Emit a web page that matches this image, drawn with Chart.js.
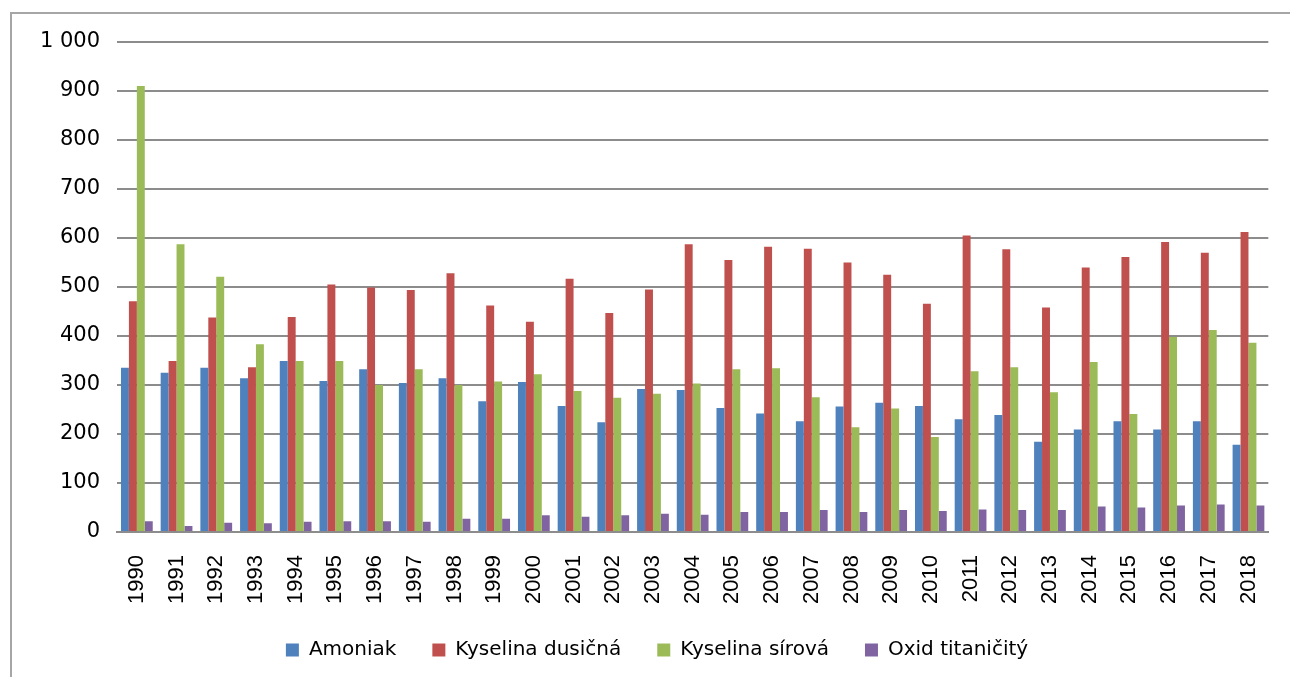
<!DOCTYPE html>
<html lang="cs">
  <head>
    <meta charset="UTF-8" />
    <title>Produkce</title>
    <script src="https://cdn.jsdelivr.net/npm/chart.js"></script>
    <style>
      html, body { margin: 0; padding: 0; background: #fff; }
      #wrap { position: relative; width: 1290px; height: 677px; overflow: hidden; }
      #frame {
        position: absolute; left: 10px; top: 12px; width: 1300px; height: 700px;
        border: 2px solid #a6a6a6; box-sizing: border-box;
      }
      #c { position: absolute; left: 0; top: 0; }
    </style>
  </head>
  <body>
    <div id="wrap">
      <div id="frame"></div>
      <canvas id="c" width="1290" height="677"></canvas>
    </div>
    <script>
      const years = ["1990","1991","1992","1993","1994","1995","1996","1997","1998","1999",
        "2000","2001","2002","2003","2004","2005","2006","2007","2008","2009",
        "2010","2011","2012","2013","2014","2015","2016","2017","2018"];

      const amoniak = [335, 325, 335, 314, 349, 308, 332, 304, 314, 267,
        306, 257, 224, 292, 290, 253, 242, 226, 256, 264,
        257, 230, 239, 184, 209, 226, 209, 226, 178];
      const kyselinaDusicna = [471, 349, 438, 336, 439, 505, 499, 494, 528, 462,
        429, 517, 447, 495, 587, 555, 582, 578, 550, 525,
        466, 605, 577, 458, 540, 561, 592, 570, 612];
      const kyselinaSirova = [910, 587, 521, 383, 349, 349, 300, 332, 300, 307,
        322, 288, 274, 282, 303, 332, 334, 275, 214, 252,
        194, 328, 336, 285, 347, 241, 398, 412, 386];
      const oxidTitanicity = [22, 12, 19, 18, 21, 22, 22, 21, 27, 27,
        34, 31, 34, 37, 35, 41, 41, 45, 41, 45,
        43, 46, 45, 45, 52, 50, 54, 56, 54];

      const yTicks = [0, 100, 200, 300, 400, 500, 600, 700, 800, 900, 1000];

      const mk = (label, data, color) => ({
        label: label,
        data: data,
        backgroundColor: color,
        borderWidth: 0,
        categoryPercentage: 0.8,
        barPercentage: 1.0,
      });

      const chart = new Chart(document.getElementById("c"), {
        type: "bar",
        data: {
          labels: years,
          datasets: [
            mk("Amoniak", amoniak, "#4f81bd"),
            mk("Kyselina dusičná", kyselinaDusicna, "#c0504d"),
            mk("Kyselina sírová", kyselinaSirova, "#9bbb59"),
            mk("Oxid titaničitý", oxidTitanicity, "#8064a2"),
          ],
        },
        options: {
          responsive: false,
          animation: false,
          layout: { padding: { left: 31, right: 7, top: 42, bottom: 7 } },
          scales: {
            x: {
              grid: { display: false },
              border: { display: true, color: "#8c8c8c", width: 2 },
              ticks: {
                color: "#000",
                font: { family: "Liberation Sans", size: 22 },
                minRotation: 90,
                maxRotation: 90,
                autoSkip: false,
                padding: 15,
              },
              afterFit: (s) => { s.height = 72; },
            },
            y: {
              min: 0,
              max: 1000,
              afterBuildTicks: (s) => { s.ticks = yTicks.map((v) => ({ value: v })); },
              grid: { color: "#8c8c8c", lineWidth: 2, drawTicks: false },
              border: { display: false },
              ticks: {
                color: "#000",
                padding: 17,
                font: { family: "DejaVu Sans", size: 21 },
                callback: (v) => (v >= 1000 ? "1 000" : String(v)),
              },
              afterFit: (s) => { s.width = 86; },
            },
          },
          plugins: {
            tooltip: { enabled: false },
            legend: {
              position: "bottom",
              labels: {
                color: "#000",
                boxWidth: 13,
                boxHeight: 13,
                padding: 36,
                font: { family: "DejaVu Sans", size: 20 },
              },
            },
          },
        },
      });
    </script>
  </body>
</html>
